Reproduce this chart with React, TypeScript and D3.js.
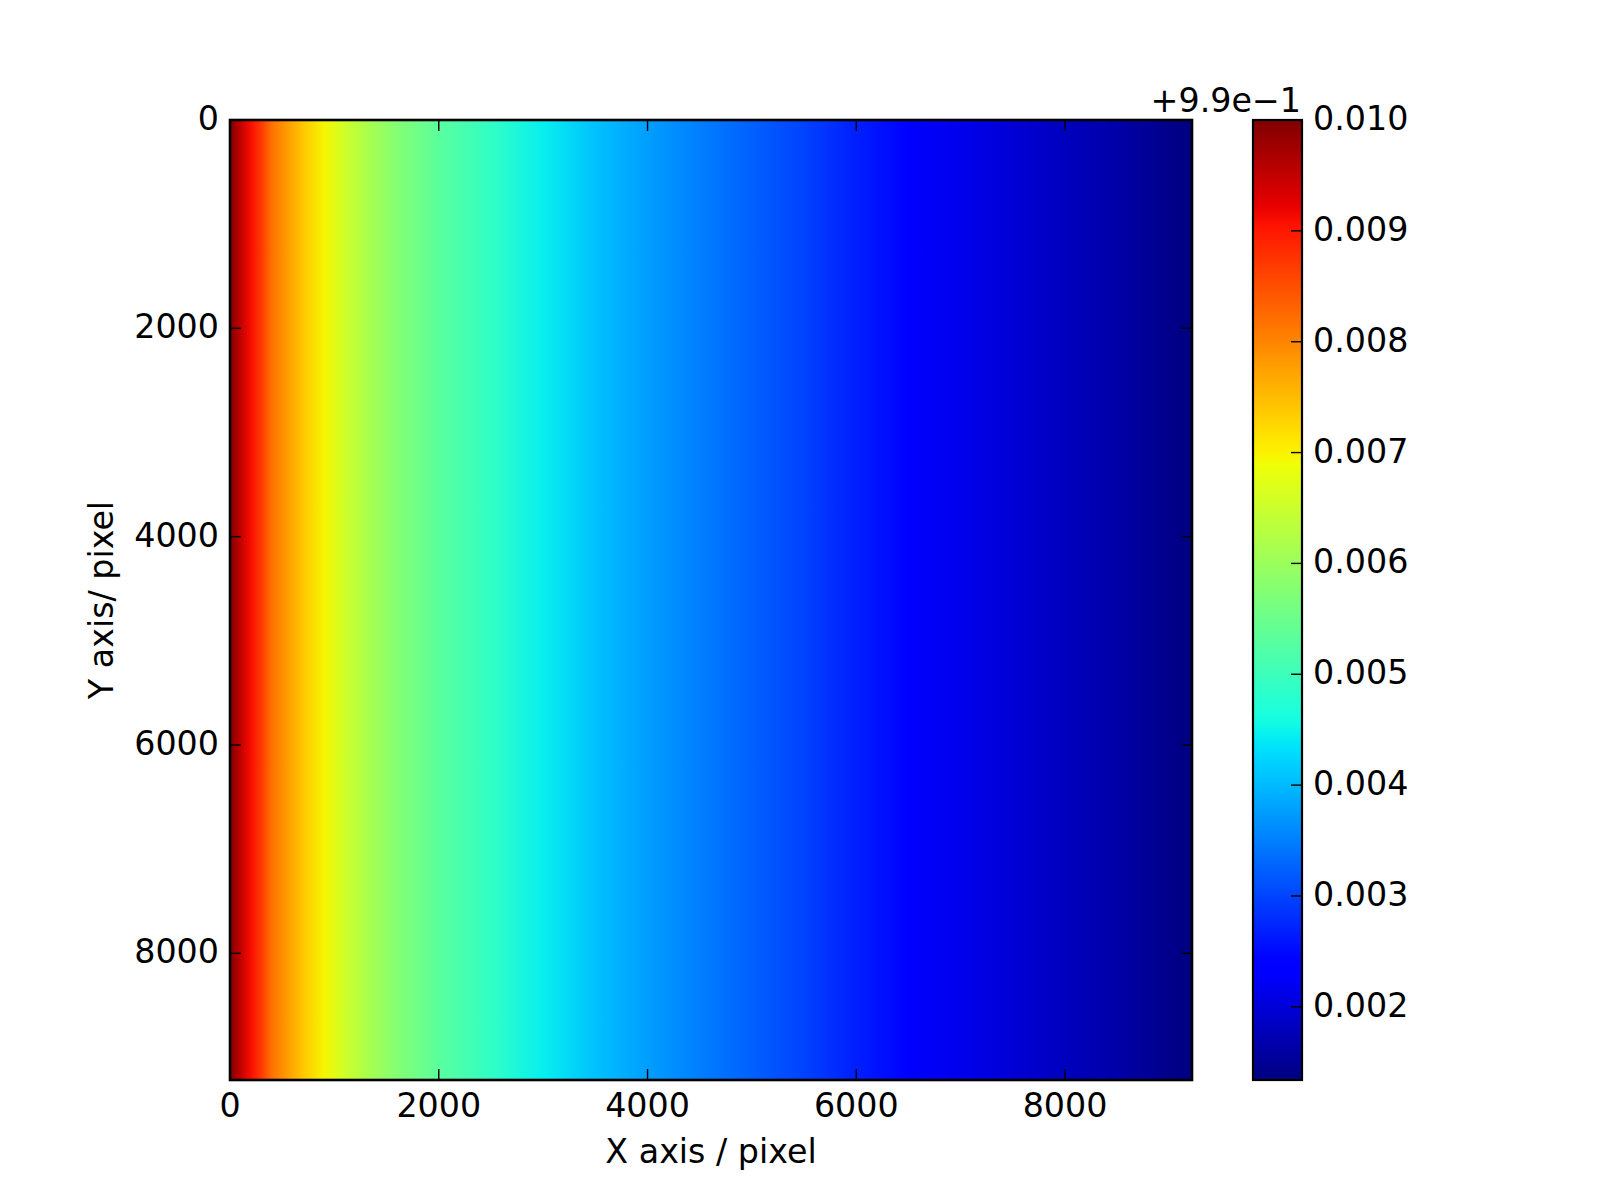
import React from "react";
import * as d3 from "d3";

// ---- data ----
const columnX = [0, 100, 200, 300, 400, 500, 700, 900, 1100, 1300, 1600, 2000, 2500, 3000, 3500, 4000, 4500, 5000, 5500, 6000, 6500, 7000, 7500, 8000, 8500, 9000, 9216];
const columnValues = [1.0, 0.99952, 0.99909, 0.9987, 0.99818, 0.99792, 0.9974, 0.99697, 0.99653, 0.99619, 0.99575, 0.99532, 0.99489, 0.99445, 0.99406, 0.99376, 0.9935, 0.99324, 0.99298, 0.99268, 0.99233, 0.99216, 0.99199, 0.99181, 0.99164, 0.99142, 0.99134];
const xTicks = [0, 2000, 4000, 6000, 8000];
const yTicks = [0, 2000, 4000, 6000, 8000];
const imageExtent = [0, 9216];
const colorDomain = [0.99134, 1.0];
const cbTicks = [0.992, 0.993, 0.994, 0.995, 0.996, 0.997, 0.998, 0.999, 1.0];
const cbTickLabels = ["0.002", "0.003", "0.004", "0.005", "0.006", "0.007", "0.008", "0.009", "0.010"];
const cbOffsetText = "+9.9e\u22121";
const xLabel = "X axis / pixel";
const yLabel = "Y axis/ pixel";

// matplotlib "jet" segment data
const jetR: [number, number][] = [[0, 0], [0.35, 0], [0.66, 1], [0.89, 1], [1, 0.5]];
const jetG: [number, number][] = [[0, 0], [0.125, 0], [0.375, 1], [0.64, 1], [0.91, 0], [1, 0]];
const jetB: [number, number][] = [[0, 0.5], [0.11, 1], [0.34, 1], [0.65, 0], [1, 0]];
function seg(pts: [number, number][], t: number) {
  for (let i = 1; i < pts.length; i++) {
    if (t <= pts[i][0]) {
      const [x0, y0] = pts[i - 1];
      const [x1, y1] = pts[i];
      return y0 + ((t - x0) / (x1 - x0)) * (y1 - y0);
    }
  }
  return pts[pts.length - 1][1];
}
function jet(t: number) {
  const c = Math.max(0, Math.min(1, t));
  return d3.rgb(seg(jetR, c) * 255, seg(jetG, c) * 255, seg(jetB, c) * 255).formatHex();
}

const FONT = "DejaVu Sans";
const FS = 33.3;

export default function App() {
  const left = 230, right = 1192, top = 120, bottom = 1080;
  const x = d3.scaleLinear().domain(imageExtent).range([left, right]);
  const y = d3.scaleLinear().domain(imageExtent).range([top, bottom]);
  const norm = d3.scaleLinear().domain(colorDomain).range([0, 1]);
  const cbL = 1253, cbR = 1302;
  const cy = d3.scaleLinear().domain(colorDomain).range([bottom, top]);
  const tickLen = 11;
  const tickW = 1.4;
  const cbStops = d3.range(0, 1.0001, 0.01);

  return (
    <svg width={1600} height={1200} style={{ display: "block", position: "absolute", left: 0, top: 0, background: "#fff" }}>
      <defs>
        <linearGradient id="img" gradientUnits="userSpaceOnUse" x1={left} x2={right} y1={0} y2={0}>
          {columnX.map((cx, i) => (
            <stop key={i} offset={(x(cx) - left) / (right - left)} stopColor={jet(norm(columnValues[i]))} />
          ))}
        </linearGradient>
        <linearGradient id="cb" x1={0} x2={0} y1={1} y2={0}>
          {cbStops.map((t, i) => (
            <stop key={i} offset={t} stopColor={jet(t)} />
          ))}
        </linearGradient>
      </defs>
      <rect x={left} y={top} width={right - left} height={bottom - top} fill="url(#img)" />
      {/* ticks */}
      {xTicks.map((t) => (
        <g key={"x" + t}>
          <line x1={x(t)} x2={x(t)} y1={bottom} y2={bottom - tickLen} stroke="#000" strokeWidth={tickW} />
          <line x1={x(t)} x2={x(t)} y1={top} y2={top + tickLen} stroke="#000" strokeWidth={tickW} />
          <text x={x(t)} y={1117} textAnchor="middle" fontFamily={FONT} fontSize={FS}>{t}</text>
        </g>
      ))}
      {yTicks.map((t) => (
        <g key={"y" + t}>
          <line x1={left} x2={left + tickLen} y1={y(t)} y2={y(t)} stroke="#000" strokeWidth={tickW} />
          <line x1={right} x2={right - tickLen} y1={y(t)} y2={y(t)} stroke="#000" strokeWidth={tickW} />
          <text x={219} y={y(t) + 10} textAnchor="end" fontFamily={FONT} fontSize={FS}>{t}</text>
        </g>
      ))}
      <rect x={left} y={top} width={right - left} height={bottom - top} fill="none" stroke="#000" strokeWidth={2.6} />
      <text x={(left + right) / 2} y={1163} textAnchor="middle" fontFamily={FONT} fontSize={FS}>{xLabel}</text>
      <text transform={`translate(113,${(top + bottom) / 2}) rotate(-90)`} textAnchor="middle" fontFamily={FONT} fontSize={FS}>{yLabel}</text>

      {/* colorbar */}
      <rect x={cbL} y={top} width={cbR - cbL} height={bottom - top} fill="url(#cb)" />
      {cbTicks.map((t, i) => (
        <g key={"c" + i}>
          <line x1={cbR} x2={cbR - tickLen} y1={cy(t)} y2={cy(t)} stroke="#000" strokeWidth={tickW} />
          <text x={1313} y={cy(t) + 10} textAnchor="start" fontFamily={FONT} fontSize={FS}>{cbTickLabels[i]}</text>
        </g>
      ))}
      <rect x={cbL} y={top} width={cbR - cbL} height={bottom - top} fill="none" stroke="#000" strokeWidth={2.2} />
      <text x={cbR - 1} y={112} textAnchor="end" fontFamily={FONT} fontSize={FS}>{cbOffsetText}</text>
    </svg>
  );
}
